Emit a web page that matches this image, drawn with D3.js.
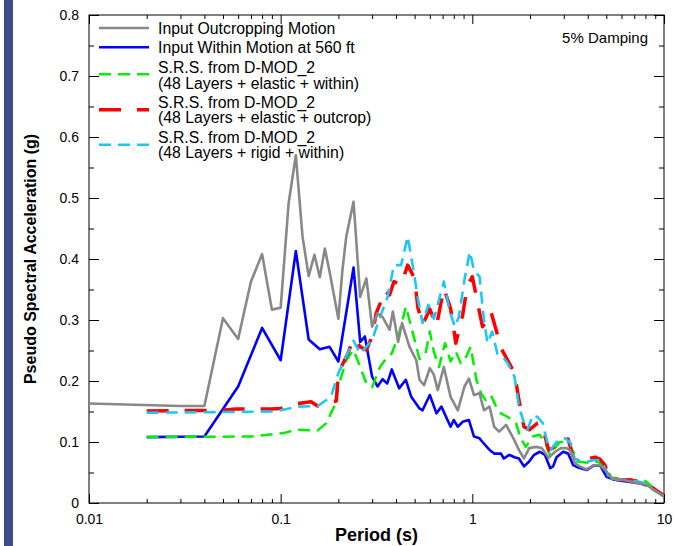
<!DOCTYPE html>
<html>
<head>
<meta charset="utf-8">
<script src="https://cdn.jsdelivr.net/npm/d3@7"></script>
<style>
  body { margin: 0; background: #fff; }
  svg { display: block; font-family: "Liberation Sans", Arial, sans-serif; }
  .axis text { font-size: 14px; fill: #000; }
  .axis line { stroke: #000; stroke-width: 1; }
  .axis path { display: none; }
</style>
</head>
<body>
<script>
// [period (s), pseudo spectral acceleration (g)]
var outcrop = [[0.01,0.163],[0.03,0.159],[0.04,0.159],[0.05,0.303],[0.06,0.269],[0.07,0.363],[0.08,0.408],[0.09,0.317],[0.1,0.320],
  [0.11,0.491],[0.12,0.570],[0.13,0.437],[0.14,0.372],[0.15,0.407],[0.16,0.370],[0.17,0.417],[0.18,0.379],[0.2,0.302],[0.21,0.382],
  [0.22,0.437],[0.24,0.494],[0.26,0.338],[0.28,0.368],[0.3,0.289],[0.32,0.311],[0.34,0.305],[0.37,0.284],[0.385,0.314],[0.41,0.264],
  [0.43,0.295],[0.47,0.256],[0.51,0.234],[0.53,0.202],[0.56,0.193],[0.6,0.221],[0.63,0.210],[0.66,0.185],[0.71,0.223],[0.77,0.174],
  [0.84,0.152],[0.91,0.191],[0.96,0.204],[1.02,0.177],[1.09,0.180],[1.15,0.152],[1.23,0.158],[1.3,0.125],[1.38,0.117],[1.5,0.128],
  [1.62,0.109],[1.75,0.087],[1.86,0.073],[1.98,0.090],[2.15,0.092],[2.3,0.090],[2.5,0.074],[2.7,0.084],[2.9,0.090],[3.1,0.090],
  [3.25,0.086],[3.43,0.065],[3.64,0.060],[3.95,0.055],[4.3,0.062],[4.63,0.062],[5.0,0.052],[5.33,0.040],[6.1,0.038],[7.2,0.033],
  [8.1,0.030],[9.0,0.020],[10,0.011]];

var within = [[0.02,0.108],[0.04,0.109],[0.06,0.191],[0.08,0.287],[0.1,0.234],[0.12,0.413],[0.14,0.268],[0.16,0.252],[0.18,0.256],
  [0.2,0.232],[0.24,0.386],[0.26,0.264],[0.275,0.273],[0.3,0.207],[0.32,0.191],[0.34,0.203],[0.36,0.196],[0.38,0.219],[0.415,0.188],
  [0.45,0.202],[0.48,0.174],[0.53,0.155],[0.55,0.152],[0.6,0.177],[0.65,0.147],[0.69,0.158],[0.73,0.141],[0.77,0.125],[0.8,0.136],
  [0.84,0.125],[0.89,0.133],[0.96,0.136],[1.02,0.109],[1.09,0.106],[1.13,0.100],[1.23,0.087],[1.3,0.081],[1.41,0.081],[1.46,0.073],
  [1.56,0.079],[1.66,0.075],[1.75,0.073],[1.86,0.060],[1.98,0.068],[2.1,0.079],[2.25,0.084],[2.39,0.079],[2.55,0.057],[2.64,0.060],
  [2.75,0.075],[2.98,0.084],[3.16,0.081],[3.36,0.062],[3.57,0.058],[3.95,0.054],[4.27,0.061],[4.63,0.062],[5.02,0.043],[5.5,0.038],
  [6.5,0.035],[7.5,0.032],[8.5,0.027],[10,0.011]];

var elasticWithin = [[0.02,0.108],[0.07,0.109],[0.105,0.115],[0.12,0.120],[0.156,0.119],[0.173,0.131],[0.19,0.158],[0.2,0.191],
  [0.22,0.234],[0.24,0.251],[0.26,0.223],[0.28,0.196],[0.3,0.190],[0.33,0.223],[0.355,0.237],[0.38,0.245],[0.415,0.278],[0.45,0.322],
  [0.49,0.278],[0.53,0.236],[0.57,0.245],[0.6,0.281],[0.63,0.248],[0.67,0.223],[0.72,0.262],[0.77,0.232],[0.82,0.248],[0.87,0.229],
  [0.93,0.240],[0.98,0.256],[1.05,0.202],[1.11,0.180],[1.17,0.169],[1.25,0.177],[1.33,0.158],[1.41,0.147],[1.53,0.141],[1.69,0.131],
  [1.79,0.106],[1.9,0.092],[2.07,0.109],[2.24,0.112],[2.39,0.100],[2.54,0.079],[2.7,0.090],[2.86,0.100],[3.16,0.100],[3.36,0.084],
  [3.5,0.068],[4.0,0.066],[4.5,0.068],[5.0,0.058],[5.3,0.042],[6.5,0.038],[8.0,0.036],[9.0,0.022],[10,0.012]];

var elasticOutcrop = [[0.02,0.151],[0.05,0.152],[0.058,0.154],[0.089,0.154],[0.1,0.155],[0.123,0.163],[0.144,0.166],[0.156,0.159],
  [0.183,0.166],[0.195,0.167],[0.2,0.213],[0.224,0.245],[0.24,0.270],[0.26,0.256],[0.28,0.251],[0.3,0.273],[0.315,0.311],[0.33,0.327],
  [0.345,0.349],[0.37,0.341],[0.39,0.363],[0.425,0.357],[0.46,0.390],[0.5,0.368],[0.52,0.320],[0.55,0.292],[0.6,0.318],[0.65,0.290],
  [0.71,0.352],[0.77,0.319],[0.82,0.262],[0.89,0.308],[0.94,0.355],[1.0,0.371],[1.07,0.325],[1.13,0.289],[1.2,0.300],[1.25,0.314],
  [1.33,0.284],[1.41,0.254],[1.56,0.229],[1.66,0.213],[1.75,0.169],[1.86,0.125],[1.98,0.120],[2.19,0.131],[2.3,0.130],[2.39,0.110],
  [2.5,0.087],[2.64,0.090],[2.75,0.098],[2.98,0.106],[3.16,0.105],[3.36,0.075],[3.64,0.070],[4.03,0.073],[4.36,0.075],[4.63,0.072],
  [4.92,0.062],[5.22,0.040],[5.9,0.038],[6.6,0.038],[7.5,0.035],[8.1,0.032],[9.0,0.022],[10,0.012]];

var rigidWithin = [[0.02,0.148],[0.047,0.149],[0.093,0.150],[0.123,0.158],[0.156,0.159],[0.183,0.174],[0.2,0.213],[0.24,0.266],
  [0.26,0.245],[0.3,0.267],[0.33,0.305],[0.36,0.336],[0.39,0.390],[0.425,0.390],[0.46,0.437],[0.49,0.387],[0.52,0.335],[0.55,0.295],
  [0.59,0.325],[0.63,0.302],[0.67,0.333],[0.71,0.363],[0.76,0.316],[0.81,0.289],[0.85,0.305],[0.91,0.366],[0.97,0.412],[1.02,0.382],
  [1.09,0.371],[1.15,0.300],[1.2,0.262],[1.27,0.281],[1.35,0.245],[1.44,0.240],[1.53,0.229],[1.66,0.207],[1.75,0.158],[1.86,0.131],
  [1.94,0.120],[2.07,0.144],[2.19,0.141],[2.33,0.131],[2.46,0.100],[2.56,0.087],[2.72,0.098],[2.89,0.106],[3.07,0.106],[3.26,0.098],
  [3.39,0.073],[3.6,0.070],[4.0,0.068],[4.3,0.070],[4.58,0.070],[4.86,0.060],[5.2,0.040],[5.8,0.038],[6.5,0.038],[7.4,0.035],
  [8.0,0.032],[8.8,0.021],[10,0.011]];

var xMajor = [0.01, 0.1, 1, 10];
var xMinorMult = [2, 3, 4, 5, 6, 7, 8, 9];
var yMajor = [0, 0.1, 0.2, 0.3, 0.4, 0.5, 0.6, 0.7, 0.8];
var yMinor = [0.05, 0.15, 0.25, 0.35, 0.45, 0.55, 0.65, 0.75];

var legendLabels = [
  ['Input Outcropping Motion'],
  ['Input Within Motion at 560 ft'],
  ['S.R.S. from D-MOD_2', '(48 Layers + elastic + within)'],
  ['S.R.S. from D-MOD_2', '(48 Layers + elastic + outcrop)'],
  ['S.R.S. from D-MOD_2', '(48 Layers + rigid + within)']
];

var styles = [
  {color: '#888888', width: 2.6, dash: null},
  {color: '#0000ff', width: 2.6, dash: null},
  {color: '#00f000', width: 2.5, dash: '12,7'},
  {color: '#ff0000', width: 3.5, dash: '22,16'},
  {color: '#1ec6f6', width: 2.6, dash: '12,7'}
];
var seriesList = [outcrop, within, elasticWithin, elasticOutcrop, rigidWithin];

var W = 677, H = 546;
var margin = {top: 15, right: 13, bottom: 43, left: 89},
    width = W - margin.left - margin.right,
    height = H - margin.top - margin.bottom;

var x = d3.scaleLog().domain([0.01, 10]).range([0, width]);
var y = d3.scaleLinear().domain([0, 0.8]).range([height, 0]);

var svg = d3.select('body').append('svg')
    .attr('width', W)
    .attr('height', H);

svg.append('rect').attr('width', W).attr('height', H).attr('fill', '#fff');

// dark side bar
svg.append('rect')
    .attr('x', 4).attr('y', 0)
    .attr('width', 9).attr('height', H)
    .attr('fill', '#3f4a8c');

var g = svg.append('g')
    .attr('transform', 'translate(' + margin.left + ',' + margin.top + ')');

g.append('clipPath').attr('id', 'plotclip')
  .append('rect').attr('width', width).attr('height', height);

var xMinor = [];
xMajor.slice(0, 3).forEach(function(d) {
    xMinorMult.forEach(function(m) { xMinor.push(d * m); });
});

// bottom / top axes
g.append('g').attr('class', 'x axis')
    .attr('transform', 'translate(0,' + height + ')')
    .call(d3.axisBottom(x).tickValues(xMajor).tickSizeInner(-9).tickSizeOuter(0).tickPadding(11)
        .tickFormat(function(d) { return String(d); }));
g.append('g').attr('class', 'x axis minor')
    .attr('transform', 'translate(0,' + height + ')')
    .call(d3.axisBottom(x).tickValues(xMinor).tickSizeInner(-4).tickSizeOuter(0).tickFormat(''));
g.append('g').attr('class', 'x axis')
    .call(d3.axisTop(x).tickValues(xMajor).tickSizeInner(-9).tickSizeOuter(0).tickFormat(''));
g.append('g').attr('class', 'x axis minor')
    .call(d3.axisTop(x).tickValues(xMinor).tickSizeInner(-4).tickSizeOuter(0).tickFormat(''));

// left / right axes
g.append('g').attr('class', 'y axis')
    .call(d3.axisLeft(y).tickValues(yMajor).tickSizeInner(-10).tickSizeOuter(0).tickPadding(10)
        .tickFormat(function(d) { return d === 0 ? '0' : d3.format('.1f')(d); }));
g.append('g').attr('class', 'y axis minor')
    .call(d3.axisLeft(y).tickValues(yMinor).tickSizeInner(-5).tickSizeOuter(0).tickFormat(''));
g.append('g').attr('class', 'y axis')
    .attr('transform', 'translate(' + width + ',0)')
    .call(d3.axisRight(y).tickValues(yMajor).tickSizeInner(-10).tickSizeOuter(0).tickFormat(''));
g.append('g').attr('class', 'y axis minor')
    .attr('transform', 'translate(' + width + ',0)')
    .call(d3.axisRight(y).tickValues(yMinor).tickSizeInner(-5).tickSizeOuter(0).tickFormat(''));

// frame
g.append('rect')
    .attr('width', width).attr('height', height)
    .attr('fill', 'none').attr('stroke', '#000').attr('stroke-width', 1);

var line = d3.line()
    .x(function(d) { return x(d[0]); })
    .y(function(d) { return y(d[1]); });

// draw order: computed curves, then input motions on top
var order = [1, 2, 3, 4, 0];
var plot = g.append('g').attr('clip-path', 'url(#plotclip)');
order.forEach(function(i) {
    var s = styles[i];
    plot.append('path')
        .attr('d', line(seriesList[i]))
        .attr('fill', 'none')
        .attr('stroke', s.color)
        .attr('stroke-width', s.width)
        .attr('stroke-linejoin', 'round')
        .attr('stroke-dasharray', s.dash);
});

// legend
var legendSampleY = [13, 32.3, 59.3, 94.7, 129.7];
var legendTextY = [19.3, 38.3, 58.3, 92.7, 127.7];
var legend = g.append('g').attr('class', 'legend');
legendLabels.forEach(function(lines, i) {
    var s = styles[i];
    legend.append('line')
        .attr('x1', 10).attr('x2', 60)
        .attr('y1', legendSampleY[i]).attr('y2', legendSampleY[i])
        .attr('stroke', s.color)
        .attr('stroke-width', s.width)
        .attr('stroke-dasharray', s.dash);
    lines.forEach(function(t, j) {
        legend.append('text')
            .attr('x', 69)
            .attr('y', legendTextY[i] + j * 15.5)
            .attr('font-size', 15.8)
            .text(t);
    });
});

g.append('text')
    .attr('x', width - 16)
    .attr('y', 28)
    .attr('text-anchor', 'end')
    .attr('font-size', 15)
    .text('5% Damping');

// axis titles
svg.append('text')
    .attr('x', margin.left + width / 2)
    .attr('y', 541)
    .attr('text-anchor', 'middle')
    .attr('font-size', 18)
    .attr('font-weight', 'bold')
    .text('Period (s)');

svg.append('text')
    .attr('transform', 'translate(36,' + (margin.top + height / 2) + ') rotate(-90)')
    .attr('text-anchor', 'middle')
    .attr('font-size', 16)
    .attr('font-weight', 'bold')
    .text('Pseudo Spectral Acceleration (g)');
</script>
</body>
</html>
